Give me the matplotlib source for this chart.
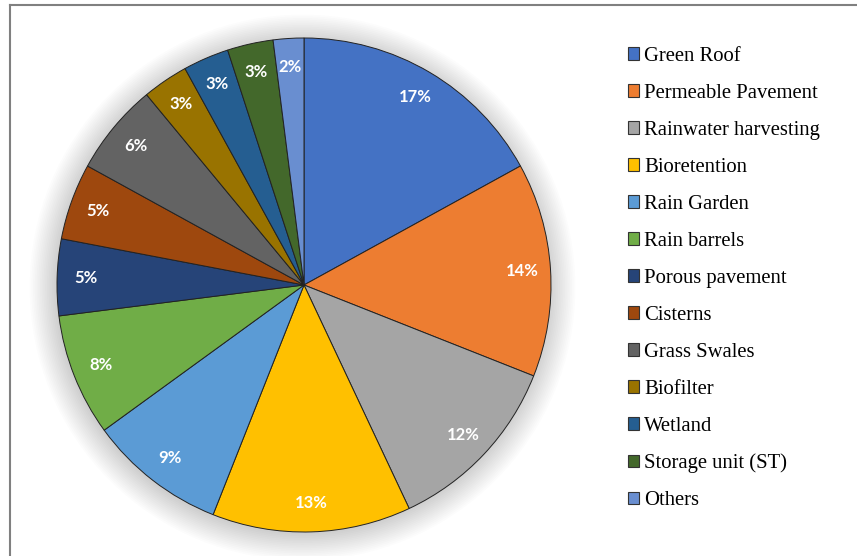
"""Pie chart of the share of each SuDS / LID practice."""
import matplotlib.pyplot as plt
import matplotlib.patches as mpatches
from matplotlib.lines import Line2D

# data
practices = ['Green Roof', 'Permeable Pavement', 'Rainwater harvesting', 'Bioretention',
             'Rain Garden', 'Rain barrels', 'Porous pavement', 'Cisterns', 'Grass Swales',
             'Biofilter', 'Wetland', 'Storage unit (ST)', 'Others']
shares = [17, 14, 12, 13, 9, 8, 5, 5, 6, 3, 3, 3, 2]
colours = ['#4472C4', '#ED7D31', '#A5A5A5', '#FFC000', '#5B9BD5', '#70AD47', '#264478',
           '#9E480E', '#636363', '#997300', '#255E91', '#43682B', '#698ED0']

W, H = 857, 556
fig = plt.figure(figsize=(W / 100, H / 100), dpi=100)

# pie centre (304, 285) px, radius 247 px
cx, cy, r = 304, 285, 247
ax = fig.add_axes([(cx - r) / W, (H - cy - r) / H, 2 * r / W, 2 * r / H])

# soft shadow round the pie
for k in range(16):
    ax.add_patch(mpatches.Circle((-0.006, -0.01), 1.0 + k * 0.007, facecolor='#000000',
                                 edgecolor='none', alpha=0.011, clip_on=False, zorder=0))

wedges, texts, autotexts = ax.pie(shares, colors=colours, startangle=90, counterclock=False,
                                  autopct='%.0f%%', pctdistance=0.885, radius=1.0,
                                  wedgeprops={'edgecolor': '#222222', 'linewidth': 0.7},
                                  textprops={'color': 'white', 'fontsize': 12,
                                             'fontweight': 'bold', 'family': 'Lato'})
for w in wedges:
    w.set_zorder(2)
for t in autotexts:
    t.set_zorder(3)
ax.set_xlim(-1, 1)
ax.set_ylim(-1, 1)
ax.set_aspect('equal')
ax.axis('off')

# legend
handles = [mpatches.Rectangle((0, 0), 1, 1, facecolor=c, edgecolor='#333333', linewidth=0.8)
           for c in colours]
leg = fig.legend(handles, practices, loc='upper left', bbox_to_anchor=(628 / W, 1 - 47 / H),
                 frameon=False, handlelength=0.55, handleheight=0.55, handletextpad=0.22,
                 borderpad=0, borderaxespad=0, labelspacing=0.868,
                 prop={'family': 'Liberation Serif', 'size': 14.9})

# chart frame (top and left edges only are in the picture)
fig.add_artist(Line2D([10 / W, 1], [1 - 5 / H, 1 - 5 / H], color='#808080', linewidth=1.5))
fig.add_artist(Line2D([10 / W, 10 / W], [0, 1 - 5 / H], color='#808080', linewidth=1.5))

fig.savefig('out.png', dpi=100)
